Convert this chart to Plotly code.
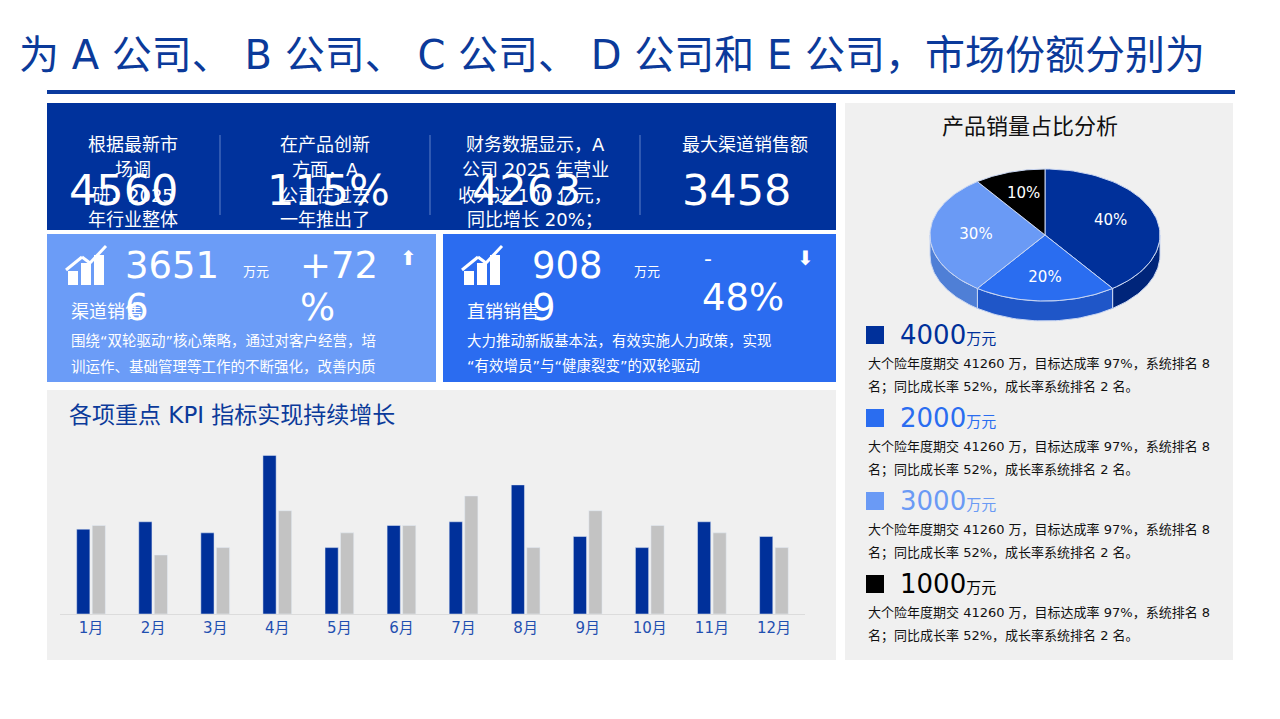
import math
import plotly.graph_objects as go

OFF = 8
W, H = 1280 - 2 * OFF, 719 - 2 * OFF
FONT = "DejaVu Sans, Noto Sans CJK SC"

months = [f"{i}月" for i in range(1, 13)]
kpi_actual = [23, 25, 22, 43, 18, 24, 25, 35, 21, 18, 25, 21]
kpi_target = [24, 16, 18, 28, 22, 24, 32, 18, 28, 24, 22, 18]

pie_labels = ["40%", "20%", "30%", "10%"]
pie_values = [40, 20, 30, 10]
pie_top = ["#00309a", "#2a6df0", "#6a9af5", "#000000"]
pie_side = ["#00257a", "#1f56c8", "#4f7fd6", "#000000"]

legend_values = ["4000", "2000", "3000", "1000"]
legend_colors = ["#00309a", "#2a6df0", "#6a9af5", "#000000"]
legend_desc = ["大个险年度期交 41260 万，目标达成率 97%，系统排名 8",
               "名；同比成长率 52%，成长率系统排名 2 名。"]

fig = go.Figure()

def px(x): return (x - OFF) / W
def py(y): return 1 - (y - OFF) / H

shapes, ann = [], []
def rect(x0, y0, x1, y1, color):
    shapes.append(dict(type="rect", xref="paper", yref="paper", x0=px(x0), x1=px(x1),
                       y0=py(y1), y1=py(y0), fillcolor=color, line_width=0, layer="below"))
def line(x0, y0, x1, y1, color, w):
    shapes.append(dict(type="line", xref="paper", yref="paper", x0=px(x0), x1=px(x1),
                       y0=py(y0), y1=py(y1), line=dict(color=color, width=w)))
def text(x, y, s, size, color="white", xa="left", ya="middle"):
    ann.append(dict(xref="paper", yref="paper", x=px(x), y=py(y), text=s, showarrow=False,
                    xanchor=xa, yanchor=ya, align=xa if xa != "center" else "center",
                    font=dict(family=FONT, size=size, color=color)))
def lines(x, y0, step, items, size, color="white", xa="left"):
    for k, s in enumerate(items):
        text(x, y0 + k * step, s, size, color, xa)

# header
text(1207, 55, "为 A 公司、 B 公司、 C 公司、 D 公司和 E 公司，市场份额分别为", 40, "#0b3a9a", "right")
line(47, 92, 1235, 92, "#0a3a9e", 4)

# top panel
rect(47, 103, 836, 230, "#00329c")
for x in (220, 430, 640):
    line(x, 135, x, 215, "#5f80c8", 1)
lines(133, 145, 25, ["根据最新市", "场调", "研，2025", "年行业整体"], 18, xa="center")
lines(325, 145, 25, ["在产品创新", "方面，A", "公司在过去", "一年推出了"], 18, xa="center")
lines(535, 145, 25, ["财务数据显示，A", "公司 2025 年营业", "收入达 100 亿元，", "同比增长 20%；"], 18, xa="center")
text(745, 145, "最大渠道销售额", 18, xa="center")
text(67, 190, "4560", 43)
text(265, 190, "115%", 43)
text(470, 190, "4263", 43)
text(680, 190, "3458", 43)

# middle panels
for (x0, x1, col, num, nx, ux, pct, pctx, arrow, ax_, title, desc) in [
    (47, 436, "#6b9cf7", ["3651", "6"], 123, 241, ["+72", "%"], 298, "⬆", 408, "渠道销售",
     ["围绕“双轮驱动”核心策略，通过对客户经营，培", "训运作、基础管理等工作的不断强化，改善内质"]),
    (443, 836, "#2b6cf0", ["908", "9"], 530, 632, ["-", "48%"], 700, "⬇", 805, "直销销售",
     ["大力推动新版基本法，有效实施人力政策，实现", "“有效增员”与“健康裂变”的双轮驱动"])]:
    rect(x0, 234, x1, 382, col)
    bx = x0 + 21
    for i, h in enumerate([14, 22, 30]):
        rect(bx + i * 13, 285 - h, bx + i * 13 + 10, 285, "white")
    line(bx - 2, 270, bx + 14, 257, "white", 3)
    line(bx + 14, 257, bx + 22, 263, "white", 3)
    line(bx + 22, 263, bx + 38, 246, "white", 3)
    lines(nx, 265, 42, num, 37)
    text(ux, 271, "万元", 13)
    if pct[0] == "-":
        text(pctx + 2, 258, pct[0], 22)
        text(pctx, 297, pct[1], 37)
    else:
        lines(pctx, 265, 42, pct, 37)
    text(ax_, 258, arrow, 20, xa="center")
    text(x0 + 22, 311, title, 18)
    lines(x0 + 22, 341, 25, desc, 14.5)

# bottom panel
rect(47, 390, 836, 660, "#f0f0f0")
text(67, 415, "各项重点 KPI 指标实现持续增长", 23, "#0b3a9a")

# right panel
rect(845, 103, 1233, 660, "#f0f0f0")
text(1030, 126, "产品销量占比分析", 22, "#111111", "center")
for i, (v, c) in enumerate(zip(legend_values, legend_colors)):
    y = 335 + i * 83
    rect(866, y - 9, 884, y + 9, c)
    text(898, y, f"{v}<span style='font-size:15px'>万元</span>", 26, c)
    lines(866, y + 28, 24, legend_desc, 13, "#111111")

# bars
fig.add_trace(go.Bar(x=months, y=kpi_actual, marker_color="#00309a", name="实际"))
fig.add_trace(go.Bar(x=months, y=kpi_target, marker_color="#c3c3c3", name="目标"))

# 3D pie drawn from values on page-pixel axes
cx, cy, rx, ry, depth = 1045, 235, 115, 66, 20
def pt(a, dy=0):
    return cx + rx * math.sin(a), cy - ry * math.cos(a) + dy
total = sum(pie_values)
angles, acc = [], 0
for v in pie_values:
    angles.append((acc / total * 2 * math.pi, (acc + v) / total * 2 * math.pi))
    acc += v
for (a0, a1), c in zip(angles, pie_side):
    s0, s1 = max(a0, math.pi / 2), min(a1, 3 * math.pi / 2)
    if s1 <= s0:
        continue
    n = 40
    arc = [s0 + (s1 - s0) * k / n for k in range(n + 1)]
    xs = [pt(a)[0] for a in arc] + [pt(a, depth)[0] for a in arc[::-1]]
    ys = [pt(a)[1] for a in arc] + [pt(a, depth)[1] for a in arc[::-1]]
    fig.add_trace(go.Scatter(x=xs + [xs[0]], y=ys + [ys[0]], fill="toself", fillcolor=c, mode="lines",
                             line=dict(color="#c9d6f2", width=1), xaxis="x2", yaxis="y2",
                             hoverinfo="skip", showlegend=False))
for (a0, a1), c, lab in zip(angles, pie_top, pie_labels):
    n = 60
    arc = [a0 + (a1 - a0) * k / n for k in range(n + 1)]
    xs = [cx] + [pt(a)[0] for a in arc] + [cx]
    ys = [cy] + [pt(a)[1] for a in arc] + [cy]
    fig.add_trace(go.Scatter(x=xs, y=ys, fill="toself", fillcolor=c, mode="lines",
                             line=dict(color="#c9d6f2", width=1), xaxis="x2", yaxis="y2",
                             hoverinfo="skip", showlegend=False))
    m = (a0 + a1) / 2
    fig.add_trace(go.Scatter(x=[cx + 0.6 * rx * math.sin(m)], y=[cy - 0.65 * ry * math.cos(m)],
                             mode="text", text=[lab], textfont=dict(family=FONT, size=15, color="white"),
                             xaxis="x2", yaxis="y2", hoverinfo="skip", showlegend=False))

fig.update_layout(
    width=W, height=H, margin=dict(l=0, r=0, t=0, b=0),
    paper_bgcolor="white", plot_bgcolor="rgba(0,0,0,0)", showlegend=False,
    barmode="group", bargap=0.5, bargroupgap=0.15,
    xaxis=dict(domain=[px(60), px(805)], showgrid=False, showline=True, linecolor="#dcdcdc",
               tickfont=dict(family=FONT, size=15, color="#1f4fb0"), ticks=""),
    yaxis=dict(domain=[py(614), py(448)], range=[0, 45], visible=False),
    xaxis2=dict(domain=[0, 1], range=[OFF, OFF + W], visible=False, fixedrange=True),
    yaxis2=dict(domain=[0, 1], range=[OFF + H, OFF], visible=False, fixedrange=True),
    shapes=shapes, annotations=ann,
)
fig.write_html("out.html")
